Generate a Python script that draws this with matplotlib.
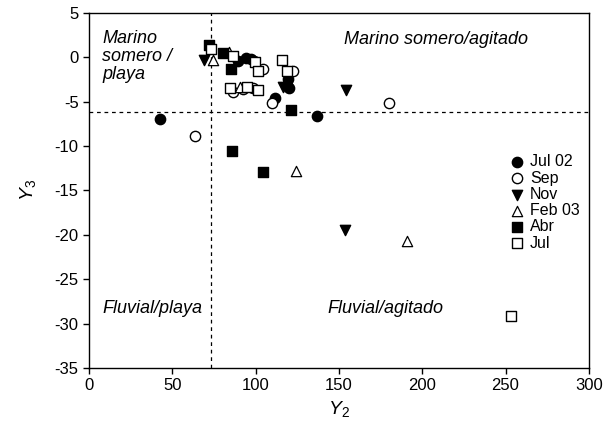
import matplotlib
matplotlib.use("Agg")
import matplotlib.pyplot as plt
from matplotlib import font_manager

fams = [f.name for f in font_manager.fontManager.ttflist]
main_font = 'Liberation Sans Narrow' if 'Liberation Sans Narrow' in fams else 'Liberation Sans'
plt.rcParams['font.family'] = [main_font, 'DejaVu Sans']
plt.rcParams['mathtext.fontset'] = 'custom'
plt.rcParams['mathtext.it'] = main_font + ':italic'
plt.rcParams['mathtext.rm'] = main_font
plt.rcParams['axes.unicode_minus'] = False

# Data (Y2, Y3) per sampling campaign
jul02_x = [42.6, 89.2, 94.2, 97.0, 119.2, 118.6, 120.2, 111.5, 136.6]
jul02_y = [-6.9, -0.4, -0.1, -0.2, -2.4, -3.1, -3.5, -4.6, -6.6]
sep_x = [63.6, 110.0, 180.0, 122.6, 104.6, 86.2, 92.2, 98.6, 99.0]
sep_y = [-8.9, -5.1, -5.1, -1.5, -1.3, -3.9, -3.6, -3.5, -0.4]
nov_x = [69.0, 116.5, 154.2, 153.6]
nov_y = [-0.3, -3.4, -3.7, -19.4]
feb03_x = [74.6, 90.6, 124.2, 191.0, 84.0]
feb03_y = [-0.3, -3.4, -12.8, -20.7, 0.6]
abr_x = [72.2, 80.6, 85.2, 85.6, 104.6, 121.0]
abr_y = [1.4, 0.5, -1.3, -10.5, -12.9, -5.9]
jul_x = [73.0, 86.2, 99.6, 101.2, 115.6, 118.6, 84.6, 95.0, 101.6, 253.0]
jul_y = [0.9, 0.1, -0.55, -1.5, -0.3, -1.5, -3.5, -3.4, -3.7, -29.1]

x_ticks = [0, 50, 100, 150, 200, 250, 300]
y_ticks = [5, 0, -5, -10, -15, -20, -25, -30, -35]
thr_x = 73
thr_y = -6.2

fig = plt.figure(figsize=(6.14, 4.30), dpi=100)
ax = fig.add_axes([0.145, 0.144, 0.814, 0.826])

ms = 55
ax.scatter(jul02_x, jul02_y, s=ms, marker='o', facecolor='black', edgecolor='black', linewidth=1, label='Jul 02', zorder=3)
ax.scatter(sep_x, sep_y, s=ms, marker='o', facecolor='white', edgecolor='black', linewidth=1, label='Sep', zorder=3)
ax.scatter(nov_x, nov_y, s=ms, marker='v', facecolor='black', edgecolor='black', linewidth=1, label='Nov', zorder=3)
ax.scatter(feb03_x, feb03_y, s=ms, marker='^', facecolor='white', edgecolor='black', linewidth=0.9, label='Feb 03', zorder=3)
ax.scatter(abr_x, abr_y, s=ms, marker='s', facecolor='black', edgecolor='black', linewidth=1, label='Abr', zorder=3)
ax.scatter(jul_x, jul_y, s=ms, marker='s', facecolor='white', edgecolor='black', linewidth=1, label='Jul', zorder=3)

ax.axvline(thr_x, color='black', linestyle=(0, (3, 3)), linewidth=0.9, zorder=1)
ax.axhline(thr_y, color='black', linestyle=(0, (3, 3)), linewidth=0.9, zorder=1)

ax.set_xlim(0, 300)
ax.set_ylim(-35, 5)
ax.set_xticks(x_ticks)
ax.set_yticks(y_ticks)
ax.tick_params(direction='out', length=4, width=1, labelsize=12, top=False, right=False)
for sp in ax.spines.values():
    sp.set_linewidth(1)

ax.set_xlabel('$\\mathit{Y}_{2}$', fontsize=14, labelpad=4)
ax.set_ylabel('$\\mathit{Y}_{3}$', fontsize=14, labelpad=12)

tkw = dict(fontsize=13, style='italic', zorder=4)
ax.text(8, 3.1, 'Marino\nsomero /\nplaya', va='top', ha='left', linespacing=1.1, **tkw)
ax.text(153, 2.0, 'Marino somero/agitado', va='center', ha='left', **tkw)
ax.text(8, -28.3, 'Fluvial/playa', va='center', ha='left', **tkw)
ax.text(143, -28.3, 'Fluvial/agitado', va='center', ha='left', **tkw)

leg = ax.legend(loc='upper left', bbox_to_anchor=(0.825, 0.62), frameon=False,
                fontsize=11.5, handletextpad=0.3, labelspacing=0.08,
                borderaxespad=0, handlelength=1.1, scatterpoints=1)

fig.savefig('out.png', dpi=100)
